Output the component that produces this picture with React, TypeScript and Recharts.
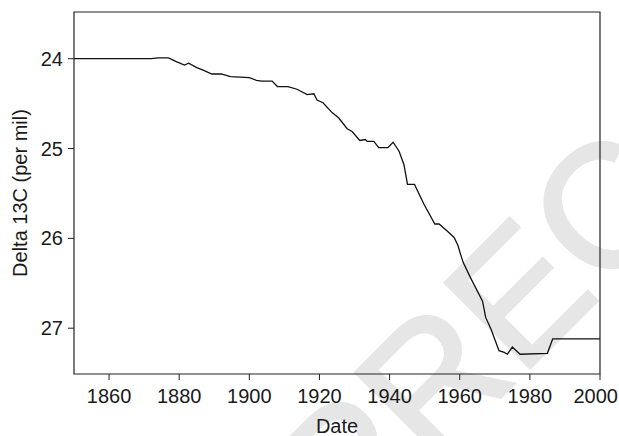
import { LineChart, Line, XAxis, YAxis, ReferenceArea } from "recharts";

// years and delta 13C values
const years = [
  1850, 1872, 1874, 1877, 1879, 1881.5, 1882.7, 1885, 1887, 1889.3, 1892, 1894.6, 1900, 1902,
  1903.6, 1906.5, 1908, 1911, 1913.6, 1916.5, 1918.4, 1919.3, 1921, 1923.6, 1925.5, 1927.9,
  1929.3, 1931.5, 1933.1, 1933.6, 1935.5, 1936.9, 1939.5, 1941, 1942.7, 1944.1, 1945.1, 1947.1,
  1949.8, 1952.9, 1954.1, 1956.5, 1958.4, 1959.5, 1960.1, 1961, 1963.1, 1966.5, 1967.4, 1968.9,
  1971.2, 1972.7, 1973.6, 1975, 1977.2, 1985, 1986.5, 2000,
];
const delta13C = [
  24.0, 24.0, 23.99, 23.99, 24.03, 24.07, 24.05, 24.1, 24.13, 24.17, 24.17, 24.2, 24.21, 24.24,
  24.25, 24.25, 24.31, 24.31, 24.34, 24.4, 24.39, 24.46, 24.49, 24.6, 24.66, 24.78,
  24.81, 24.91, 24.9, 24.92, 24.92, 24.99, 24.99, 24.93, 25.03, 25.18, 25.4, 25.4,
  25.62, 25.84, 25.84, 25.92, 25.99, 26.08, 26.16, 26.27, 26.44, 26.7, 26.88, 27.01,
  27.25, 27.27, 27.29, 27.21, 27.29, 27.28, 27.12, 27.12,
];
const xTicks = [1860, 1880, 1900, 1920, 1940, 1960, 1980, 2000];
const yTicks = [24, 25, 26, 27];

const data = years.map((date, i) => ({ date, d13c: delta13C[i] }));

const font = "'Liberation Sans', Arial, Helvetica, sans-serif";
const tick = { fill: "#1a1a1a", fontSize: 20, fontFamily: font };
const X_MIN = 1850;
const X_MAX = 2000;
const Y_MIN = 23.48;
const Y_MAX = 27.51;

// keep the last year label inside the page instead of letting it get clipped
function XTick({ x, y, payload }: any) {
  const halfW = 23;
  const overflow = x + halfW > 618;
  return (
    <text
      x={overflow ? 618 : x}
      y={y}
      dy="0.71em"
      textAnchor={overflow ? "end" : "middle"}
      fill={tick.fill}
      fontSize={tick.fontSize}
      fontFamily={font}
    >
      {payload.value}
    </text>
  );
}

export default function App() {
  return (
    <div style={{ position: "absolute", left: 0, top: 0, width: 619, height: 436, background: "#fff" }}>
      <svg width={619} height={436} style={{ position: "absolute", left: 0, top: 0 }}>
        <text
          x={348}
          y={550}
          transform="rotate(-45 348 550)"
          fontSize={175}
          fontFamily={font}
          fill="#e6e6e6"
          stroke="#e6e6e6"
          strokeWidth={3}
        >
          PREC
        </text>
      </svg>
      <div style={{ position: "absolute", left: 0, top: 0 }}>
        <LineChart width={619} height={436} data={data} margin={{ top: 12, right: 19, left: 0, bottom: 0 }}>
          <XAxis
            dataKey="date"
            type="number"
            domain={[X_MIN, X_MAX]}
            ticks={xTicks}
            interval={0}
            allowDataOverflow
            height={62}
            axisLine={false}
            tickLine={{ stroke: "#222" }}
            tickSize={6}
            tickMargin={9}
            tick={<XTick />}
            label={{ value: "Date", position: "insideBottom", offset: 3, fill: "#1a1a1a", fontSize: 20, fontFamily: font }}
          />
          <YAxis
            type="number"
            reversed
            domain={[Y_MIN, Y_MAX]}
            ticks={yTicks}
            interval={0}
            allowDataOverflow
            width={74}
            axisLine={false}
            tickLine={{ stroke: "#222" }}
            tickSize={6}
            tickMargin={5}
            tick={tick}
            label={{
              value: "Delta 13C (per mil)",
              angle: -90,
              position: "insideLeft",
              offset: 20,
              style: { textAnchor: "middle" },
              fill: "#1a1a1a",
              fontSize: 20,
              fontFamily: font,
            }}
          />
          <ReferenceArea x1={X_MIN} x2={X_MAX} y1={Y_MIN} y2={Y_MAX} fill="none" stroke="#222" strokeWidth={1.2} />
          <Line
            type="linear"
            dataKey="d13c"
            stroke="#111"
            strokeWidth={1.3}
            dot={false}
            isAnimationActive={false}
          />
        </LineChart>
      </div>
    </div>
  );
}
